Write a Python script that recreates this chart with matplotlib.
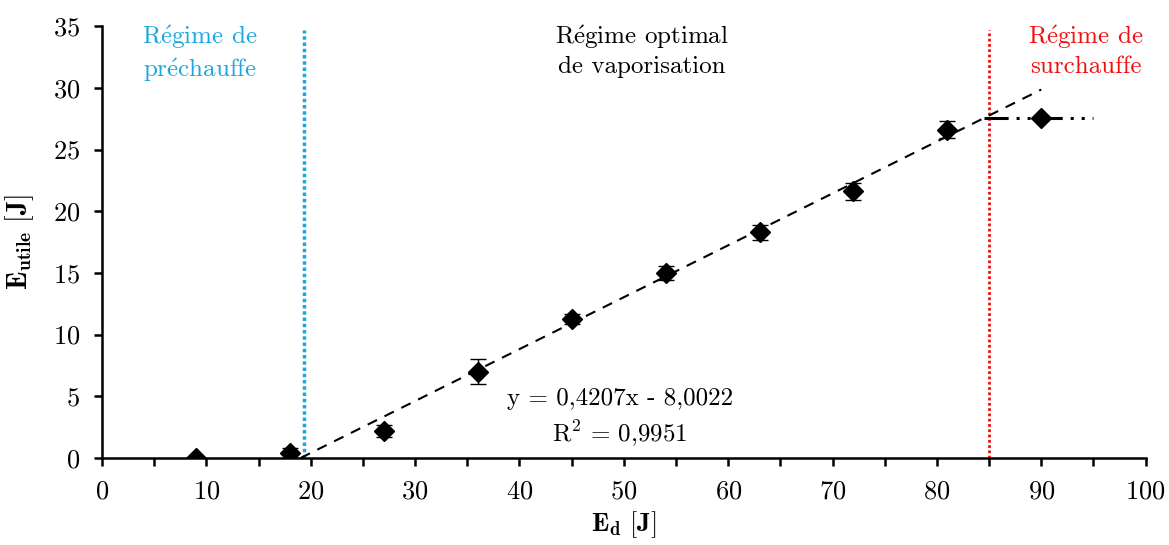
import matplotlib
matplotlib.use("Agg")
import matplotlib.pyplot as plt
import numpy as np
from matplotlib.ticker import MultipleLocator

plt.rcParams['font.family'] = ['cmr10', 'DejaVu Serif']
plt.rcParams['mathtext.fontset'] = 'cm'
plt.rcParams['axes.formatter.use_mathtext'] = True

# Data
E_d = [9, 18, 27, 36, 45, 54, 63, 72, 81, 90]
E_utile = [0.0, 0.4, 2.2, 7.0, 11.3, 15.0, 18.3, 21.6, 26.6, 27.55]
err = [0.0, 0.4, 0.5, 1.0, 0.4, 0.6, 0.6, 0.7, 0.7, 0.0]
slope, intercept = 0.4207, -8.0022
fit_x = [-intercept / slope, 90.0]
plateau_x = [84.5, 95.0]
plateau_y = 27.55
x_preheat = 19.35
x_superheat = 85.0

fig = plt.figure(figsize=(11.69, 5.45), dpi=100)
ax = fig.add_axes([0.0873, 0.1596, 0.8927, 0.7924])

fx = np.array(fit_x)
ax.plot(fx, slope * fx + intercept, color='black', linestyle=(0, (5, 4)), lw=1.5, zorder=2)
ax.plot(plateau_x, [plateau_y, plateau_y], color='black', lw=2.2,
        linestyle=(0, (7.9, 2.6, 1.0, 2.6, 1.0, 2.6)), zorder=2)
ax.errorbar(E_d, E_utile, yerr=err, fmt='D', color='black', markersize=10,
            ecolor='black', elinewidth=1, capsize=6, capthick=1, zorder=3)

ax.plot([x_preheat, x_preheat], [0, 34.7], color='#1BA8DE', lw=2.5, linestyle=(0, (1, 0.8)), zorder=1)
ax.plot([x_superheat, x_superheat], [0, 34.7], color='#F01010', lw=2, linestyle=(0, (1, 0.9)), zorder=1)

ax.set_xlim(0, 100)
ax.set_ylim(0, 35)
ax.xaxis.set_major_locator(MultipleLocator(10))
ax.xaxis.set_minor_locator(MultipleLocator(5))
ax.yaxis.set_major_locator(MultipleLocator(5))
ax.spines['top'].set_visible(False)
ax.spines['right'].set_visible(False)
ax.spines['left'].set_linewidth(1.8)
ax.spines['bottom'].set_linewidth(1.8)
ax.tick_params(axis='both', which='major', direction='out', length=6, width=1.8, labelsize=19)
ax.tick_params(axis='x', which='minor', direction='out', length=6, width=1.8)
ax.tick_params(axis='x', pad=10)
ax.tick_params(axis='y', pad=10)

ax.set_xlabel(r'$\mathbf{E_{d}\ [J]}$', fontsize=19, labelpad=4)
ax.set_ylabel(r'$\mathbf{E_{utile}\ [J]}$', fontsize=20, labelpad=12)

re = r'$\mathrm{R\acute{e}gime}$'
ax.text(9.4, 35.2, re + ' de\npr' + r'$\mathrm{\acute{e}}$' + 'chauffe', color='#1BA8DE', fontsize=18,
        ha='center', va='top', linespacing=1.25)
ax.text(51.7, 35.2, re + ' optimal\nde vaporisation', color='black', fontsize=18,
        ha='center', va='top', linespacing=1.25)
ax.text(94.3, 35.2, re + ' de\nsurchauffe', color='#F01010', fontsize=18,
        ha='center', va='top', linespacing=1.25)
ax.text(49.6, 3.2, 'y = 0,4207x - 8,0022\nR$^2$ = 0,9951', color='black', fontsize=18,
        ha='center', va='center', linespacing=1.35)

fig.savefig('out.png', dpi=100)
